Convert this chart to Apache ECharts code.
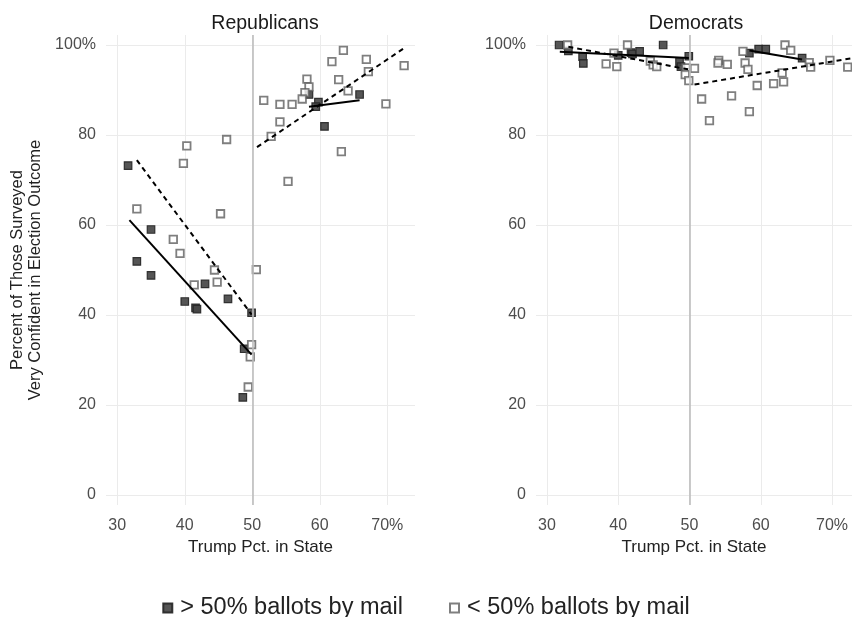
<!DOCTYPE html>
<html><head><meta charset="utf-8">
<script src="https://cdn.jsdelivr.net/npm/echarts@6/dist/echarts.min.js"></script>
<style>html,body{margin:0;padding:0;background:#fff}#c{width:852px;height:617px}</style>
</head><body><div id="c"></div>
<script>
// ---- data ----
const panelTitles = ['Republicans', 'Democrats'];
const xTickLabels = {30:'30', 40:'40', 50:'50', 60:'60', 70:'70%'};
const yTickLabels = {0:'0', 20:'20', 40:'40', 60:'60', 80:'80', 100:'100%'};
const legendNames = ['> 50% ballots by mail', '< 50% ballots by mail'];

const repHighMail = [[31.6,73.2],[32.9,51.9],[35.0,59.0],[35.0,48.8],[40.0,43.0],[41.6,41.6],[41.8,41.3],[43.0,46.9],[46.4,43.6],[49.9,40.5],[48.8,32.5],[48.6,21.7],[58.4,89.0],[59.8,87.3],[59.4,86.3],[60.7,81.9],[65.9,89.0]];
const repLowMail = [[63.5,98.8],[61.8,96.3],[66.9,96.8],[72.5,95.4],[67.2,94.1],[58.1,92.4],[58.4,90.7],[62.8,92.3],[57.8,89.4],[57.4,88.0],[64.2,89.8],[51.7,87.7],[54.1,86.8],[55.9,86.8],[69.8,86.9],[54.1,82.9],[52.8,79.7],[63.2,76.3],[55.3,69.7],[46.2,79.0],[40.3,77.6],[39.8,73.7],[32.9,63.6],[45.3,62.5],[38.3,56.8],[39.3,53.7],[44.4,50.0],[50.6,50.1],[41.4,46.7],[44.8,47.3],[49.9,33.4],[49.7,30.7],[49.4,24.0]];
const demHighMail = [[31.7,100.0],[33.0,98.7],[35.0,97.4],[35.1,95.9],[40.0,97.7],[41.8,98.3],[42.0,98.0],[43.0,98.6],[46.3,100.0],[48.6,96.3],[48.8,95.2],[49.9,97.5],[58.4,98.2],[59.7,99.1],[60.7,99.1],[65.8,97.1]];
const demLowMail = [[32.9,100.0],[38.3,95.8],[39.4,98.2],[39.8,95.2],[41.3,100.0],[44.5,96.4],[44.9,95.6],[45.4,95.2],[49.5,94.9],[50.7,94.8],[49.4,93.4],[49.9,92.1],[51.7,88.0],[52.8,83.2],[54.1,96.6],[54.0,96.0],[55.3,95.7],[55.9,88.7],[57.5,98.6],[57.8,96.0],[58.2,94.6],[58.4,85.2],[59.5,91.0],[61.8,91.4],[63.0,93.8],[63.2,91.8],[63.4,100.0],[64.2,98.8],[66.8,96.1],[67.0,95.1],[69.7,96.6],[72.2,95.1]];

// fitted trend segments (endpoints)
const repHighFitBelow = [[31.8,61.1],[49.9,31.2]];
const repHighFitAbove = [[58.4,86.3],[65.9,87.7]];
const repLowFitBelow = [[32.9,74.4],[49.9,40.1]];
const repLowFitAbove = [[50.7,77.3],[72.4,99.2]];
const demHighFitBelow = [[31.8,98.5],[49.9,97.1]];
const demHighFitAbove = [[58.4,98.8],[65.8,96.8]];
const demLowFitBelow = [[33.0,99.6],[49.8,94.6]];
const demLowFitAbove = [[50.7,91.2],[72.6,97.0]];

// ---- chart ----
const FONT = '"Liberation Sans", Arial, Helvetica, sans-serif';
const chart = echarts.init(document.getElementById('c'));

const grids = [
  {left:106, top:35, width:309, height:470},
  {left:536, top:35, width:317, height:470}
];
const xRanges = [[28.33, 74.11],[28.46, 72.8]];

function xAxisDef(i){
  return {
    type:'value', gridIndex:i, min:xRanges[i][0], max:xRanges[i][1],
    splitNumber:5, minInterval:10, maxInterval:10,
    axisLine:{show:false}, axisTick:{show:false},
    axisLabel:{show:true, showMinLabel:false, showMaxLabel:false, margin:13, color:'#4d4d4d', fontSize:16, fontFamily:FONT,
      formatter:v => (xTickLabels[Math.round(v)] !== undefined && Math.abs(v-Math.round(v))<1e-6) ? xTickLabels[Math.round(v)] : ''},
    splitLine:{show:true, showMinLine:false, showMaxLine:false, lineStyle:{color:'#ebebeb', width:1}},
    name:'Trump Pct. in State', nameLocation:'middle', nameGap:31,
    nameTextStyle:{color:'#222', fontSize:17, fontFamily:FONT}
  };
}
function yAxisDef(i){
  const ax = {
    type:'value', gridIndex:i, min:-2.22, max:102.22,
    splitNumber:5, minInterval:20, maxInterval:20,
    axisLine:{show:false}, axisTick:{show:false},
    axisLabel:{show:true, showMinLabel:false, showMaxLabel:false, margin:10, color:'#4d4d4d', fontSize:16, fontFamily:FONT,
      formatter:v => (yTickLabels[Math.round(v)] !== undefined && Math.abs(v-Math.round(v))<1e-6) ? yTickLabels[Math.round(v)] : ''},
    splitLine:{show:true, showMinLine:false, showMaxLine:false, lineStyle:{color:'#ebebeb', width:1}}
  };
  if(i===0){
    ax.name = 'Percent of Those Surveyed\nVery Confident in Election Outcome';
    ax.nameLocation = 'middle';
    ax.nameGap = 62;
    ax.nameTextStyle = {color:'#222', fontSize:16.5, fontFamily:FONT, lineHeight:18};
  }
  return ax;
}

const highStyle = {color:'#474747', borderColor:'#262626', borderWidth:1.2, opacity:0.92};
const lowStyle = {color:'#ffffff', borderColor:'#5f5f5f', borderWidth:1.8};

function scatter(name, data, i, style){
  return {type:'scatter', name, data, xAxisIndex:i, yAxisIndex:i, symbol:'rect', symbolSize:7.5,
    itemStyle:style, z:3, clip:false, emphasis:{disabled:true}};
}
function fit(data, i, dashed){
  return {type:'line', data, xAxisIndex:i, yAxisIndex:i, symbol:'none', z:4, silent:true,
    lineStyle:{color:'#000', width:2, type: dashed ? [5,4] : 'solid'}};
}
function vline(i){
  return {type:'line', data:[], xAxisIndex:i, yAxisIndex:i, z:1, silent:true,
    markLine:{silent:true, symbol:'none', label:{show:false}, animation:false,
      lineStyle:{color:'#bdbdbd', width:1.6, type:'solid'}, data:[{xAxis:50}]}};
}

chart.setOption({
  animation:false,
  backgroundColor:'#fff',
  title:[
    {text:panelTitles[0], left:260, top:9, textAlign:'center', textStyle:{color:'#1a1a1a', fontSize:19.5, fontWeight:'normal', fontFamily:FONT}},
    {text:panelTitles[1], left:691, top:9, textAlign:'center', textStyle:{color:'#1a1a1a', fontSize:19.5, fontWeight:'normal', fontFamily:FONT}}
  ],
  grid:grids,
  xAxis:[xAxisDef(0), xAxisDef(1)],
  yAxis:[yAxisDef(0), yAxisDef(1)],
  legend:{
    left:'center', top:591, itemWidth:9, itemHeight:9, itemGap:46,
    data:[{name:legendNames[0], icon:'rect'},{name:legendNames[1], icon:'rect'}],
    textStyle:{color:'#222', fontSize:23.5, fontFamily:FONT, padding:[0,0,0,3]}
  },
  series:[
    vline(0), vline(1),
    scatter(legendNames[0], repHighMail, 0, highStyle),
    scatter(legendNames[1], repLowMail, 0, lowStyle),
    scatter(legendNames[0], demHighMail, 1, highStyle),
    scatter(legendNames[1], demLowMail, 1, lowStyle),
    fit(repHighFitBelow, 0, false), fit(repHighFitAbove, 0, false),
    fit(repLowFitBelow, 0, true), fit(repLowFitAbove, 0, true),
    fit(demHighFitBelow, 1, false), fit(demHighFitAbove, 1, false),
    fit(demLowFitBelow, 1, true), fit(demLowFitAbove, 1, true)
  ]
});
</script></body></html>
